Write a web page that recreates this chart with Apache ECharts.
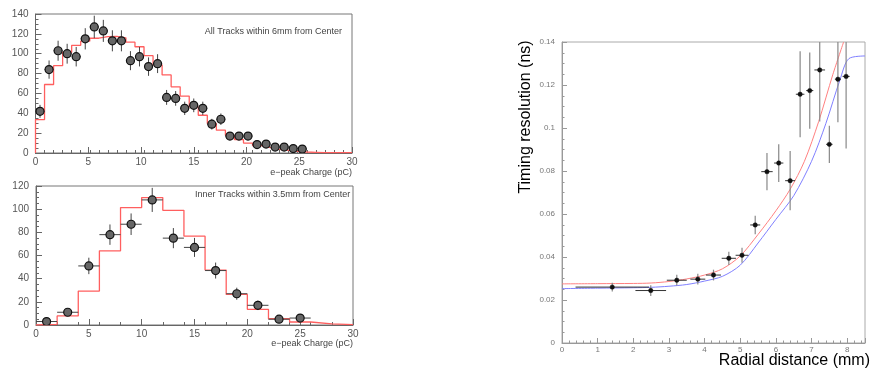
<!DOCTYPE html>
<html>
<head>
<meta charset="utf-8">
<script src="https://cdn.jsdelivr.net/npm/echarts@6/dist/echarts.min.js"></script>
<style>
html,body{margin:0;padding:0;background:#fff;}
#c{width:871px;height:372px;}
</style>
</head>
<body>
<div id="c"></div>
<script>
// ---------- data ----------
// Top-left: all tracks within 6mm, 35 bins over 0-30 pC
const topBinCount = 35;
const topCounts = [42, 84, 103, 100, 97, 115, 127, 123, 113, 113, 93, 97, 87, 90, 56, 55, 45, 48, 45, 29, 34, 17, 17, 17, 8.5, 9, 6, 6, 4.5, 4];
const topErr = [6.5, 9.2, 10.1, 10, 9.8, 10.7, 11.3, 11.1, 10.6, 10.6, 9.6, 9.8, 9.3, 9.5, 7.5, 7.4, 6.7, 6.9, 6.7, 5.4, 5.8, 4.1, 4.1, 4.1, 2.9, 3, 2.4, 2.4, 2.1, 2];
const topSim = [33.7, 69, 88, 101.5, 108.5, 112.6, 115.6, 117.3, 117.5, 116, 111.6, 107, 98, 88.7, 78.6, 66.7, 57.3, 46.5, 38, 29.7, 23, 17.8, 13.5, 10, 7.5, 5.5, 3.7, 2.7, 1.7, 1, 0.7, 0.3, 0.3, 0.3, 0.3];

// Bottom-left: inner tracks within 3.5mm, 15 bins over 0-30 pC
const botBinCount = 15;
const botCenters = [1, 3, 5, 7, 9, 11, 13, 15, 17, 19, 21, 23, 25];
const botCounts = [3, 11, 51, 78, 87, 108, 75, 67, 47, 27, 17, 5, 6];
const botErr = [1.7, 3.3, 7.1, 8.8, 9.3, 10.4, 8.7, 8.2, 6.9, 5.2, 4.1, 2.2, 2.4];
const botSim = [0.6, 7.8, 29.3, 64, 101.4, 110, 99, 76.7, 47.4, 26.4, 13.5, 5.4, 2.6, 0.9, 0.3];

// Right: timing resolution vs radial distance
const radX = [1.41, 2.49, 3.22, 3.81, 4.25, 4.68, 5.05, 5.42, 5.75, 6.08, 6.40, 6.68, 6.95, 7.23, 7.50, 7.74, 7.97];
const radY = [0.026, 0.0244, 0.0292, 0.0297, 0.0316, 0.0394, 0.0408, 0.0549, 0.0797, 0.0837, 0.0755, 0.1157, 0.1174, 0.127, 0.0924, 0.1227, 0.124];
const radEx = [1.03, 0.43, 0.28, 0.21, 0.21, 0.2, 0.18, 0.14, 0.16, 0.13, 0.14, 0.12, 0.1, 0.15, 0.09, 0.085, 0.1];
const radEy = [0.002, 0.0025, 0.0025, 0.0025, 0.0025, 0.0031, 0.0035, 0.0043, 0.0087, 0.0088, 0.0138, 0.02, 0.0177, 0.024, 0.0087, 0.02, 0.0335];
const redFitX = [0, 1, 2, 2.5, 3, 3.5, 4, 4.5, 5, 5.5, 6, 6.4, 6.8, 7.2, 7.6, 7.9];
const redFitY = [0.0275, 0.0276, 0.0277, 0.0279, 0.0286, 0.0298, 0.0316, 0.0345, 0.0405, 0.0505, 0.0615, 0.0715, 0.0845, 0.1030, 0.1250, 0.1400];
const blueFitX = [0, 1, 2, 2.5, 3, 3.5, 4, 4.5, 5, 5.5, 6, 6.5, 7, 7.4, 7.8, 8.05, 8.5];
const blueFitY = [0.0253, 0.0255, 0.0257, 0.0259, 0.0264, 0.0272, 0.0288, 0.031, 0.0362, 0.0465, 0.0575, 0.0685, 0.0845, 0.1020, 0.1225, 0.1323, 0.1335];

// ---------- build ----------
const topW = 30 / topBinCount;
const botW = 30 / botBinCount;
function stepData(vals, w) {
  const d = [[0, 0]];
  vals.forEach((v, i) => d.push([i * w, v]));
  d.push([vals.length * w, vals[vals.length - 1]]);
  return d;
}
const topPts = topCounts.map((v, i) => [(i + 0.5) * topW, v, topW / 2, topErr[i]]);
const botPts = botCounts.map((v, i) => [botCenters[i], v, botW / 2, botErr[i]]);
const radPts = radX.map((x, i) => [x, radY[i], radEx[i], radEy[i]]);

function errRender(style) {
  return function (params, api) {
    const x = api.value(0), y = api.value(1), ex = api.value(2), ey = api.value(3);
    const c = api.coord([x, y]);
    const l = api.coord([x - ex, y]), r = api.coord([x + ex, y]);
    const t = api.coord([x, y + ey]), b = api.coord([x, y - ey]);
    return {
      type: 'group',
      children: [
        { type: 'line', shape: { x1: t[0], y1: t[1], x2: b[0], y2: b[1] }, style: { stroke: style.vColor, lineWidth: style.vWidth } },
        { type: 'line', shape: { x1: l[0], y1: l[1], x2: r[0], y2: r[1] }, style: { stroke: style.hColor, lineWidth: style.hWidth } },
        { type: 'circle', shape: { cx: c[0], cy: c[1], r: style.r }, style: { fill: style.fill, stroke: style.stroke, lineWidth: style.sw } }
      ]
    };
  };
}

const leftLabel = { color: '#555', fontSize: 10, fontFamily: 'Liberation Sans, Arial, sans-serif' };
const rightLabel = { color: '#777', fontSize: 8, fontFamily: 'Liberation Sans, Arial, sans-serif' };

function majorX(grid, max, interval, label, tickLen, lineColor) {
  return {
    type: 'value', gridIndex: grid, min: 0, max: max, interval: interval, position: 'bottom',
    axisLine: { show: true, lineStyle: { color: lineColor, width: 1 } },
    axisTick: { show: true, inside: true, length: tickLen, lineStyle: { color: lineColor } },
    axisLabel: Object.assign({ margin: 4, showMaxLabel: max === 30 }, label),
    splitLine: { show: false }
  };
}
function minorX(grid, max, interval, len, color) {
  return {
    type: 'value', gridIndex: grid, min: 0, max: max, interval: interval, position: 'bottom',
    axisLine: { show: false },
    axisTick: { show: true, inside: true, length: len, lineStyle: { color: color } },
    axisLabel: { show: false },
    splitLine: { show: false }
  };
}

const option = {
  animation: false,
  backgroundColor: '#fff',
  grid: [
    { left: 35.5, top: 14, width: 316.5, height: 139, show: true, borderColor: '#777', borderWidth: 1, containLabel: false },
    { left: 36, top: 186, width: 317, height: 139, show: true, borderColor: '#777', borderWidth: 1, containLabel: false },
    { left: 562, top: 42, width: 303, height: 301, show: true, borderColor: '#aaa', borderWidth: 1, containLabel: false }
  ],
  xAxis: [
    majorX(0, 30, 5, leftLabel, 6, '#666'),
    minorX(0, 30, topW, 3, '#666'),
    majorX(1, 30, 5, leftLabel, 6, '#666'),
    minorX(1, 30, botW, 3, '#666'),
    {
      type: 'value', gridIndex: 2, min: 0, max: 8.5, interval: 1, position: 'bottom',
      axisLine: { show: true, lineStyle: { color: '#999' } },
      axisTick: { show: true, inside: true, length: 5, lineStyle: { color: '#999' } },
      minorTick: { show: true, splitNumber: 5, length: 2.5, lineStyle: { color: '#999' } },
      axisLabel: Object.assign({ margin: 3, showMaxLabel: false }, rightLabel),
      splitLine: { show: false }
    }
  ],
  yAxis: [
    {
      type: 'value', gridIndex: 0, min: 0, max: 140, interval: 20,
      axisLine: { show: true, lineStyle: { color: '#666' } },
      axisTick: { show: true, inside: true, length: 6, lineStyle: { color: '#666' } },
      minorTick: { show: true, splitNumber: 4, length: 3, lineStyle: { color: '#666' } },
      axisLabel: Object.assign({ margin: 7 }, leftLabel),
      splitLine: { show: false }
    },
    {
      type: 'value', gridIndex: 1, min: 0, max: 120, interval: 20,
      axisLine: { show: true, lineStyle: { color: '#666' } },
      axisTick: { show: true, inside: true, length: 6, lineStyle: { color: '#666' } },
      minorTick: { show: true, splitNumber: 4, length: 3, lineStyle: { color: '#666' } },
      axisLabel: Object.assign({ margin: 7 }, leftLabel),
      splitLine: { show: false }
    },
    {
      type: 'value', gridIndex: 2, min: 0, max: 0.14, interval: 0.02,
      axisLine: { show: true, lineStyle: { color: '#999' } },
      axisTick: { show: true, inside: true, length: 5, lineStyle: { color: '#999' } },
      minorTick: { show: true, splitNumber: 4, length: 2.5, lineStyle: { color: '#999' } },
      axisLabel: Object.assign({ margin: 7 }, rightLabel),
      splitLine: { show: false }
    }
  ],
  series: [
    {
      type: 'line', xAxisIndex: 0, yAxisIndex: 0, step: 'end', data: stepData(topSim, topW),
      showSymbol: false, lineStyle: { color: '#ff5f5f', width: 1.3 }, z: 2
    },
    {
      type: 'custom', xAxisIndex: 0, yAxisIndex: 0, data: topPts, clip: true, z: 3,
      encode: { x: 0, y: 1 },
      renderItem: errRender({ vColor: '#444', vWidth: 1, hColor: '#444', hWidth: 1, r: 4, fill: '#666', stroke: '#111', sw: 1.2 })
    },
    {
      type: 'line', xAxisIndex: 2, yAxisIndex: 1, step: 'end', data: stepData(botSim, botW),
      showSymbol: false, lineStyle: { color: '#ff5f5f', width: 1.3 }, z: 2
    },
    {
      type: 'custom', xAxisIndex: 2, yAxisIndex: 1, data: botPts, clip: true, z: 3,
      encode: { x: 0, y: 1 },
      renderItem: errRender({ vColor: '#444', vWidth: 1, hColor: '#444', hWidth: 1, r: 4, fill: '#666', stroke: '#111', sw: 1.2 })
    },
    {
      type: 'line', xAxisIndex: 4, yAxisIndex: 2, smooth: 0.3, showSymbol: false,
      data: redFitX.map((x, i) => [x, redFitY[i]]),
      lineStyle: { color: '#ff8080', width: 1 }, z: 2
    },
    {
      type: 'line', xAxisIndex: 4, yAxisIndex: 2, smooth: 0.3, showSymbol: false,
      data: blueFitX.map((x, i) => [x, blueFitY[i]]),
      lineStyle: { color: '#8080ff', width: 1 }, z: 2
    },
    {
      type: 'custom', xAxisIndex: 4, yAxisIndex: 2, data: radPts, clip: true, z: 3,
      encode: { x: 0, y: 1 },
      renderItem: errRender({ vColor: '#888', vWidth: 1.2, hColor: '#333', hWidth: 1, r: 2.2, fill: '#111', stroke: '#111', sw: 0.5 })
    }
  ],
  graphic: [
    { type: 'text', x: 342, y: 32, style: { text: 'All Tracks within 6mm from Center', align: 'right', verticalAlign: 'middle', fill: '#444', font: '9px "Liberation Sans", Arial, sans-serif' } },
    { type: 'text', x: 195, y: 195, style: { text: 'Inner Tracks within 3.5mm from Center', align: 'left', verticalAlign: 'middle', fill: '#444', font: '9px "Liberation Sans", Arial, sans-serif' } },
    { type: 'text', x: 352, y: 173, style: { text: 'e\u2212peak Charge (pC)', align: 'right', verticalAlign: 'middle', fill: '#444', font: '9px "Liberation Sans", Arial, sans-serif' } },
    { type: 'text', x: 353, y: 344, style: { text: 'e\u2212peak Charge (pC)', align: 'right', verticalAlign: 'middle', fill: '#444', font: '9px "Liberation Sans", Arial, sans-serif' } },
    { type: 'text', x: 526, y: 117, rotation: Math.PI / 2, style: { text: 'Timing resolution (ns)', align: 'center', verticalAlign: 'middle', fill: '#000', font: '16px "Liberation Sans", Arial, sans-serif' } },
    { type: 'text', x: 870, y: 361, style: { text: 'Radial distance (mm)', align: 'right', verticalAlign: 'middle', fill: '#000', font: '16px "Liberation Sans", Arial, sans-serif' } }
  ]
};

const chart = echarts.init(document.getElementById('c'), null, { renderer: 'canvas' });
chart.setOption(option);
</script>
</body>
</html>
